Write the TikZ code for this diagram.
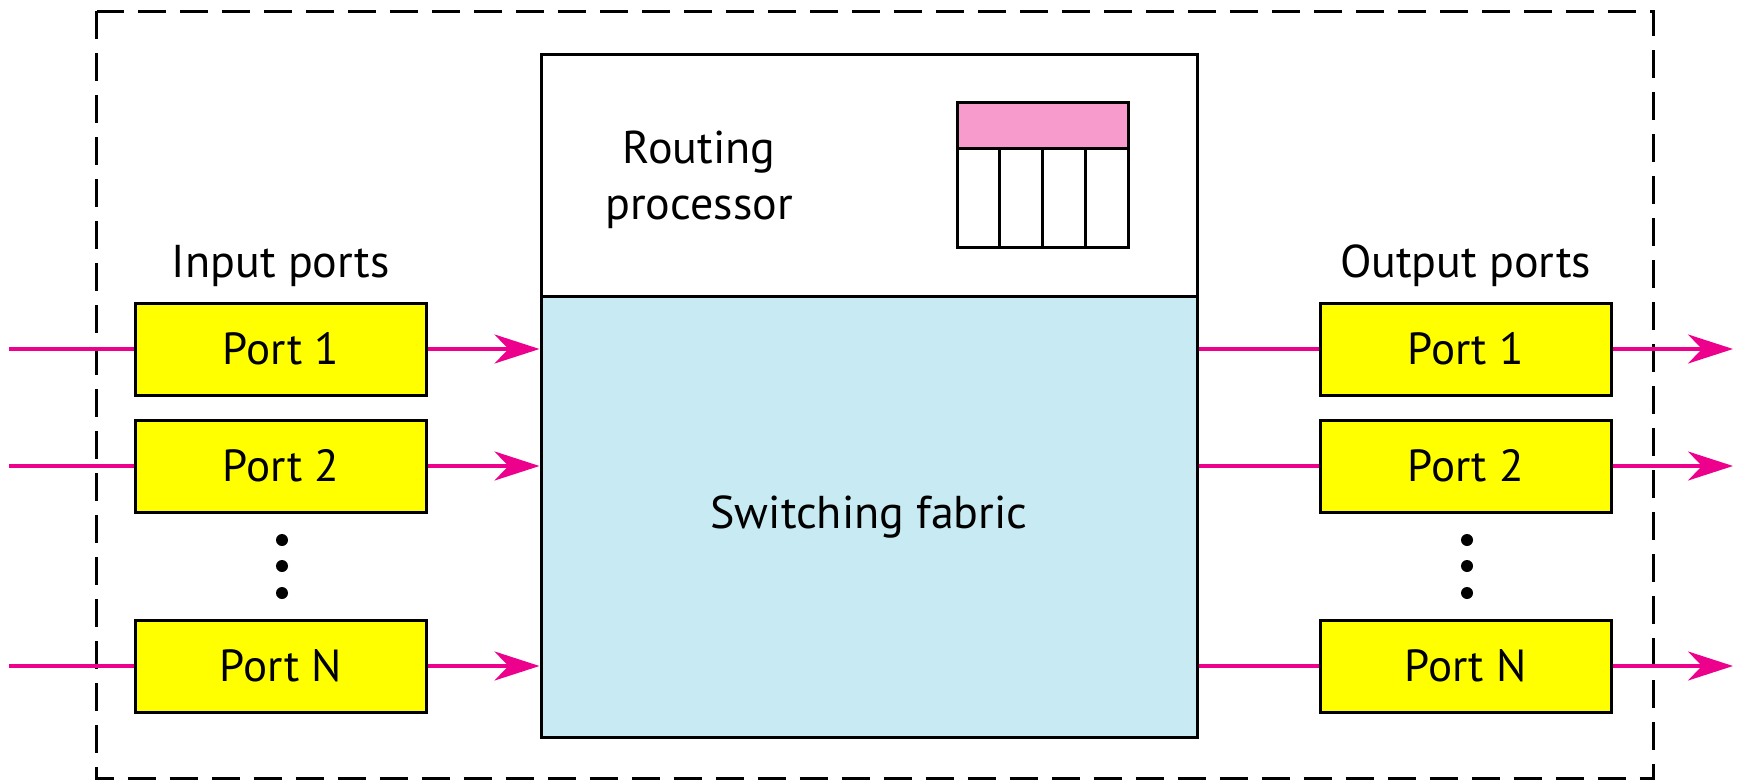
\documentclass[tikz,border=0pt]{standalone}
\usepackage{fontspec}
\setmainfont{PT Sans}
\usetikzlibrary{arrows.meta}
\definecolor{arrowpink}{HTML}{EC008C}
\definecolor{portyellow}{HTML}{FFFF00}
\definecolor{fabricblue}{HTML}{C8EAF2}
\definecolor{tablepink}{HTML}{F79ACC}
\begin{document}
\begin{tikzpicture}[x=1pt,y=-1pt,
  portbox/.style={draw=black, line width=3pt, fill=portyellow, minimum width=291pt, minimum height=92pt, inner sep=0pt, font=\fontsize{45}{54}\selectfont},
  bigbox/.style={draw=black, line width=3pt, anchor=north west, minimum width=656pt, inner sep=0pt, font=\fontsize{46}{54}\selectfont},
  flow/.style={draw=arrowpink, line width=3.5pt},
  flowarrow/.style={flow, -{Stealth[length=45pt,width=29pt,inset=14pt]}},
  lbl/.style={font=\fontsize{46}{54}\selectfont, inner sep=0pt, anchor=base},
  dotmark/.style={circle, fill=black, minimum size=12pt, inner sep=0pt},
  tbl/.style={draw=black, line width=3pt}]
\useasboundingbox (0,0) rectangle (1741,782);
% outer dashed frame
\draw[line width=3pt, dash pattern=on 28pt off 14pt] (96.5,11) rectangle (1653,778);
% central boxes
\node[bigbox, fill=white, minimum height=242pt] (rp) at (539.5,52.5) {};
\node[bigbox, fill=fabricblue, minimum height=441.5pt] (sf) at (539.5,294.5) {Switching fabric};
\node[lbl] (rpl1) at (699,163) {Routing};
\node[lbl] (rpl2) at (699,219) {processor};
% routing table
\draw[tbl, fill=tablepink] (957,102.5) rectangle (1128.5,148);
\draw[tbl, fill=white] (957,148) rectangle (1128.5,247);
\foreach \x in {999.9,1042.8,1085.6} \draw[tbl] (\x,148) -- (\x,247);
% labels
\node[lbl] (inlbl) at (280.75,277) {Input ports};
\node[lbl] (outlbl) at (1465.5,277) {Output ports};
% ports
\node[portbox] (in1) at (280.75,349) {Port 1};
\node[portbox] (in2) at (280.75,466) {Port 2};
\node[portbox] (inN) at (280.75,666) {Port N};
\node[portbox] (out1) at (1465.5,349) {Port 1};
\node[portbox] (out2) at (1465.5,466) {Port 2};
\node[portbox] (outN) at (1465.5,666) {Port N};
% dots
\foreach \y/\n in {540/a,566/b,593/c} {
  \node[dotmark] (ldot\n) at (282,\y) {};
  \node[dotmark] (rdot\n) at (1467,\y) {};
}
% connectors
\foreach \p in {1,2,N} {
  \coordinate (src\p) at (9,0 |- in\p);
  \coordinate (dst\p) at (1733,0 |- out\p);
  \draw[flow] (src\p) -- (in\p.west);
  \draw[flowarrow] (in\p.east) -- (in\p.east -| sf.west);
  \draw[flow] (sf.east |- out\p) -- (out\p.west);
  \draw[flowarrow] (out\p.east) -- (dst\p);
}
\end{tikzpicture}
\end{document}
